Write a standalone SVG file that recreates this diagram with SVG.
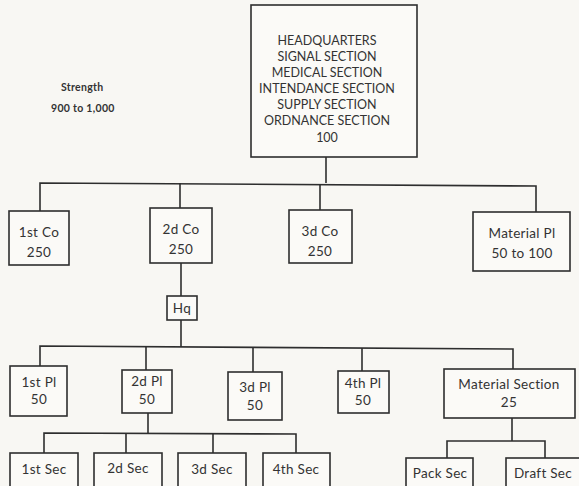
<svg xmlns="http://www.w3.org/2000/svg" width="579" height="486" viewBox="0 0 579 486">
<style>
.bg{fill:#f8f7f3}
.box{fill:#fbfaf7;stroke:#2e2e2e;stroke-width:1.6}
.ln{fill:none;stroke:#2e2e2e;stroke-width:1.6}
text{font-family:Lato,"DejaVu Sans",sans-serif;fill:#333;text-anchor:middle;font-size:13.5px;letter-spacing:0.3px}
.big{font-size:12.5px;letter-spacing:0}
.lbl{font-size:10.5px;text-anchor:start;font-weight:bold}
</style>
<rect class="bg" width="579" height="486"/>
<g id="connectors">
<line class="ln" x1="326" y1="157" x2="326" y2="183"/>
<polyline class="ln" points="40,211 40,183 536,186 536,212"/>
<line class="ln" x1="180" y1="183" x2="180" y2="208"/>
<line class="ln" x1="320" y1="184" x2="320" y2="210"/>
<line class="ln" x1="181" y1="263" x2="181" y2="296"/>
<line class="ln" x1="181" y1="320" x2="181" y2="347"/>
<polyline class="ln" points="40,366 40,346 513,349 513,369"/>
<line class="ln" x1="146" y1="346" x2="146" y2="370"/>
<line class="ln" x1="253" y1="347" x2="253" y2="372"/>
<line class="ln" x1="362" y1="348" x2="362" y2="371"/>
<line class="ln" x1="148" y1="413" x2="148" y2="433"/>
<polyline class="ln" points="44,453 44,433 296,434 296,453"/>
<line class="ln" x1="126" y1="433" x2="126" y2="453"/>
<line class="ln" x1="213" y1="433" x2="213" y2="453"/>
<line class="ln" x1="512" y1="418" x2="512" y2="441"/>
<polyline class="ln" points="447,458 447,441 545,441 545,458"/>
</g>
<g id="hq">
<rect class="box" x="251" y="5" width="166" height="152"/>
<text class="big" x="327" y="45">HEADQUARTERS</text>
<text class="big" x="327" y="61">SIGNAL SECTION</text>
<text class="big" x="327" y="77">MEDICAL SECTION</text>
<text class="big" x="327" y="93">INTENDANCE SECTION</text>
<text class="big" x="327" y="109">SUPPLY SECTION</text>
<text class="big" x="327" y="125">ORDNANCE SECTION</text>
<text class="big" x="327" y="142">100</text>
</g>
<g id="strength">
<text class="lbl" x="61" y="91">Strength</text>
<text class="lbl" x="51" y="112">900 to 1,000</text>
</g>
<g id="co1"><rect class="box" x="9" y="211" width="60" height="54"/><text x="39" y="237">1st Co</text><text x="39" y="257">250</text></g>
<g id="co2"><rect class="box" x="150" y="208" width="62" height="55"/><text x="181" y="234">2d Co</text><text x="181" y="254">250</text></g>
<g id="co3"><rect class="box" x="289" y="210" width="63" height="53"/><text x="320" y="236">3d Co</text><text x="320" y="256">250</text></g>
<g id="matpl"><rect class="box" x="473" y="212" width="97" height="59"/><text x="522" y="238">Material Pl</text><text x="522" y="258">50 to 100</text></g>
<g id="hqco"><rect class="box" x="167" y="296" width="30" height="24"/><text x="182" y="313">Hq</text></g>
<g id="pl1"><rect class="box" x="10" y="366" width="57" height="50"/><text x="39" y="387">1st Pl</text><text x="39" y="404">50</text></g>
<g id="pl2"><rect class="box" x="122" y="370" width="50" height="43"/><text x="147" y="386">2d Pl</text><text x="147" y="404">50</text></g>
<g id="pl3"><rect class="box" x="228" y="372" width="54" height="48"/><text x="255" y="392">3d Pl</text><text x="255" y="410">50</text></g>
<g id="pl4"><rect class="box" x="338" y="371" width="51" height="42"/><text x="363" y="388">4th Pl</text><text x="363" y="405">50</text></g>
<g id="matsec"><rect class="box" x="444" y="369" width="131" height="49"/><text x="509" y="389">Material Section</text><text x="509" y="407">25</text></g>
<g id="sec1"><rect class="box" x="10" y="453" width="68" height="40"/><text x="44" y="474">1st Sec</text></g>
<g id="sec2"><rect class="box" x="94" y="453" width="68" height="40"/><text x="128" y="473">2d Sec</text></g>
<g id="sec3"><rect class="box" x="178" y="453" width="68" height="40"/><text x="212" y="474">3d Sec</text></g>
<g id="sec4"><rect class="box" x="263" y="453" width="67" height="40"/><text x="296" y="474">4th Sec</text></g>
<g id="pack"><rect class="box" x="406" y="458" width="67" height="40"/><text x="440" y="478">Pack Sec</text></g>
<g id="draft"><rect class="box" x="506" y="458" width="75" height="40"/><text x="543" y="478">Draft Sec</text></g>
</svg>
